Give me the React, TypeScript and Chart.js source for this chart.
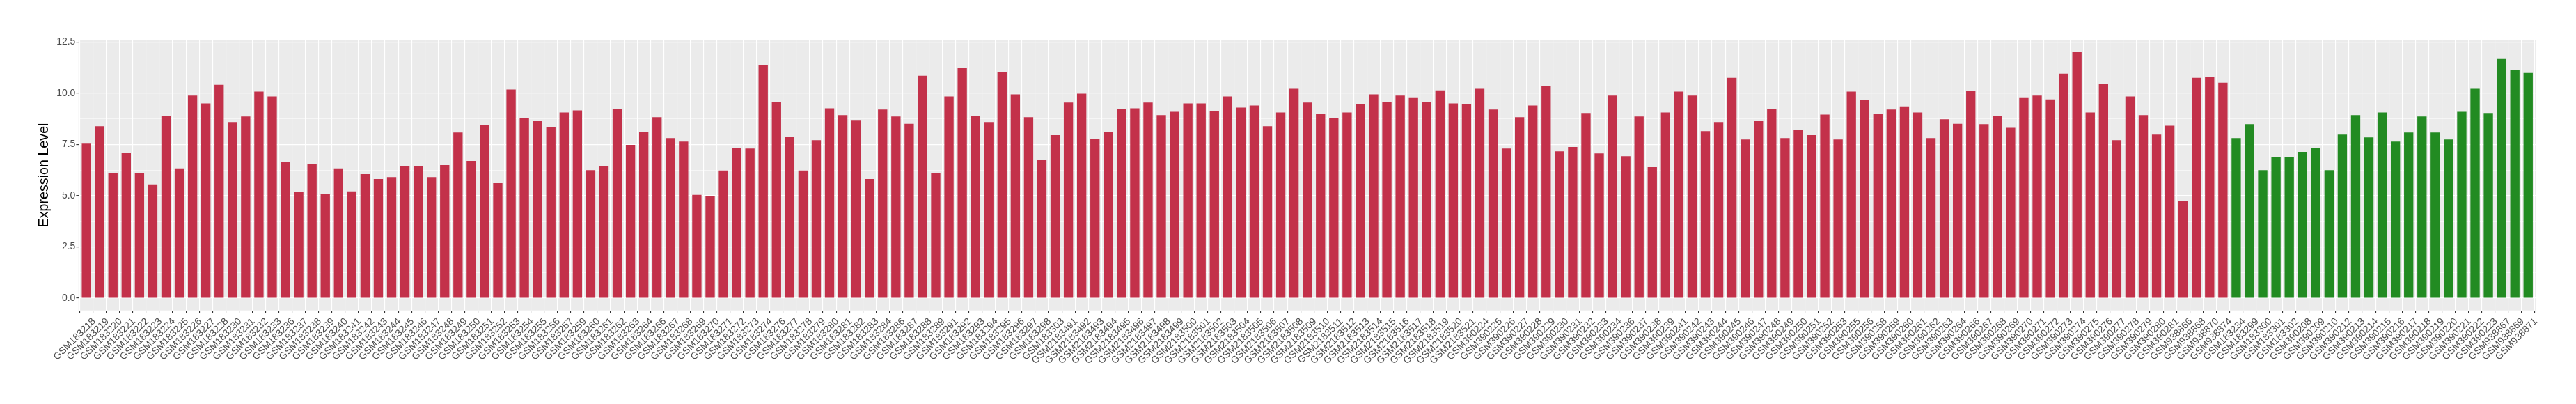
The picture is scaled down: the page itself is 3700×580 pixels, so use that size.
import React, { useEffect, useRef } from 'react';
import { Chart, registerables } from 'chart.js';

Chart.register(...registerables);

const tumorSamples = [
  'GSM183218', 'GSM183219', 'GSM183220', 'GSM183221', 'GSM183222', 'GSM183223', 'GSM183224', 'GSM183225',
  'GSM183226', 'GSM183227', 'GSM183228', 'GSM183230', 'GSM183231', 'GSM183232', 'GSM183233', 'GSM183236',
  'GSM183237', 'GSM183238', 'GSM183239', 'GSM183240', 'GSM183241', 'GSM183242', 'GSM183243', 'GSM183244',
  'GSM183245', 'GSM183246', 'GSM183247', 'GSM183248', 'GSM183249', 'GSM183250', 'GSM183251', 'GSM183252',
  'GSM183253', 'GSM183254', 'GSM183255', 'GSM183256', 'GSM183257', 'GSM183259', 'GSM183260', 'GSM183261',
  'GSM183262', 'GSM183263', 'GSM183264', 'GSM183266', 'GSM183267', 'GSM183268', 'GSM183269', 'GSM183270',
  'GSM183271', 'GSM183272', 'GSM183273', 'GSM183274', 'GSM183276', 'GSM183277', 'GSM183278', 'GSM183279',
  'GSM183280', 'GSM183281', 'GSM183282', 'GSM183283', 'GSM183284', 'GSM183286', 'GSM183287', 'GSM183288',
  'GSM183289', 'GSM183291', 'GSM183292', 'GSM183293', 'GSM183294', 'GSM183295', 'GSM183296', 'GSM183297',
  'GSM183298', 'GSM183303', 'GSM2183491', 'GSM2183492', 'GSM2183493', 'GSM2183494', 'GSM2183495', 'GSM2183496',
  'GSM2183497', 'GSM2183498', 'GSM2183499', 'GSM2183500', 'GSM2183501', 'GSM2183502', 'GSM2183503', 'GSM2183504',
  'GSM2183505', 'GSM2183506', 'GSM2183507', 'GSM2183508', 'GSM2183509', 'GSM2183510', 'GSM2183511', 'GSM2183512',
  'GSM2183513', 'GSM2183514', 'GSM2183515', 'GSM2183516', 'GSM2183517', 'GSM2183518', 'GSM2183519', 'GSM2183520',
  'GSM2183521', 'GSM390224', 'GSM390225', 'GSM390226', 'GSM390227', 'GSM390228', 'GSM390229', 'GSM390230',
  'GSM390231', 'GSM390232', 'GSM390233', 'GSM390234', 'GSM390236', 'GSM390237', 'GSM390238', 'GSM390239',
  'GSM390241', 'GSM390242', 'GSM390243', 'GSM390244', 'GSM390245', 'GSM390246', 'GSM390247', 'GSM390248',
  'GSM390249', 'GSM390250', 'GSM390251', 'GSM390252', 'GSM390253', 'GSM390255', 'GSM390256', 'GSM390258',
  'GSM390259', 'GSM390260', 'GSM390261', 'GSM390262', 'GSM390263', 'GSM390264', 'GSM390266', 'GSM390267',
  'GSM390268', 'GSM390269', 'GSM390270', 'GSM390271', 'GSM390272', 'GSM390273', 'GSM390274', 'GSM390275',
  'GSM390276', 'GSM390277', 'GSM390278', 'GSM390279', 'GSM390280', 'GSM390281', 'GSM938866', 'GSM938868',
  'GSM938870', 'GSM938874',
];

const tumorValues = [
  7.54, 8.39, 6.09, 7.10, 6.09, 5.55, 8.89, 6.33,
  9.88, 9.50, 10.41, 8.59, 8.86, 10.08, 9.84, 6.63,
  5.18, 6.53, 5.10, 6.33, 5.21, 6.05, 5.81, 5.91,
  6.46, 6.43, 5.91, 6.49, 8.08, 6.70, 8.45, 5.61,
  10.18, 8.79, 8.65, 8.35, 9.06, 9.16, 6.25, 6.46,
  9.23, 7.48, 8.11, 8.83, 7.81, 7.64, 5.04, 5.00,
  6.23, 7.34, 7.30, 11.36, 9.56, 7.88, 6.23, 7.71,
  9.26, 8.93, 8.69, 5.81, 9.20, 8.86, 8.51, 10.85,
  6.09, 9.84, 11.25, 8.89, 8.59, 11.03, 9.94, 8.83,
  6.76, 7.95, 9.54, 9.98, 7.78, 8.11, 9.23, 9.26,
  9.54, 8.93, 9.09, 9.50, 9.50, 9.13, 9.84, 9.30,
  9.40, 8.39, 9.06, 10.21, 9.54, 8.99, 8.79, 9.06,
  9.46, 9.94, 9.56, 9.88, 9.80, 9.56, 10.14, 9.50,
  9.46, 10.21, 9.20, 7.30, 8.83, 9.40, 10.34, 7.16,
  7.38, 9.03, 7.06, 9.88, 6.93, 8.86, 6.39, 9.06,
  10.08, 9.88, 8.15, 8.59, 10.75, 7.74, 8.63, 9.23,
  7.81, 8.21, 7.95, 8.96, 7.74, 10.08, 9.66, 8.99,
  9.20, 9.36, 9.06, 7.81, 8.73, 8.51, 10.11, 8.49,
  8.89, 8.31, 9.80, 9.88, 9.70, 10.95, 12.00, 9.06,
  10.45, 7.71, 9.84, 8.93, 7.98, 8.41, 4.74, 10.75,
  10.79, 10.51,
];

const normalSamples = [
  'GSM183234', 'GSM183299', 'GSM183300', 'GSM183301', 'GSM183302', 'GSM390208', 'GSM390209', 'GSM390210',
  'GSM390212', 'GSM390213', 'GSM390214', 'GSM390215', 'GSM390216', 'GSM390217', 'GSM390218', 'GSM390219',
  'GSM390220', 'GSM390221', 'GSM390222', 'GSM390223', 'GSM938867', 'GSM938869', 'GSM938871',
];

const normalValues = [
  7.81, 8.49, 6.25, 6.90, 6.90, 7.14, 7.34, 6.25,
  7.98, 8.93, 7.84, 9.06, 7.64, 8.08, 8.86, 8.08,
  7.74, 9.09, 10.21, 9.03, 11.70, 11.13, 10.99,
];

const yMajorTicks = [0, 2.5, 5, 7.5, 10, 12.5];
const yTickLabels = ['0.0', '2.5', '5.0', '7.5', '10.0', '12.5'];
const yMinorTicks = [1.25, 3.75, 6.25, 8.75, 11.25];

const allSamples = [...tumorSamples, ...normalSamples];

const FONT = '"Liberation Sans", Arial, Helvetica, sans-serif';

const isMajor = (v: number) => yMajorTicks.indexOf(v) >= 0;

const panelBackground = {
  id: 'panelBackground',
  beforeDraw(chart: any) {
    const { ctx, chartArea } = chart;
    if (!chartArea) return;
    ctx.save();
    ctx.fillStyle = '#EBEBEB';
    ctx.fillRect(chartArea.left, chartArea.top, chartArea.right - chartArea.left, chartArea.bottom - chartArea.top);
    ctx.restore();
  },
};

export default function App() {
  const canvasRef = useRef<HTMLCanvasElement | null>(null);

  useEffect(() => {
    const canvas = canvasRef.current;
    if (!canvas) return;
    const n = allSamples.length;
    const chart = new Chart(canvas, {
      type: 'bar',
      data: {
        datasets: [
          {
            label: 'Tumor',
            data: tumorValues.map((v, i) => ({ x: i, y: v })),
            backgroundColor: '#C3314A',
            borderWidth: 0,
            barPercentage: 0.7,
            categoryPercentage: 1,
            grouped: false,
          } as any,
          {
            label: 'Normal',
            data: normalValues.map((v, i) => ({ x: tumorSamples.length + i, y: v })),
            backgroundColor: '#228B22',
            borderWidth: 0,
            barPercentage: 0.7,
            categoryPercentage: 1,
            grouped: false,
          } as any,
        ],
      },
      options: {
        animation: false,
        responsive: false,
        devicePixelRatio: 1,
        layout: { padding: { top: 57.3, right: 57.3, left: 0, bottom: 0 } },
        plugins: {
          legend: { display: false },
          tooltip: { enabled: false },
        },
        scales: {
          x: {
            type: 'linear',
            min: -0.6,
            max: n - 1 + 0.6,
            bounds: 'data',
            offset: false,
            afterBuildTicks: (s: any) => {
              s.ticks = allSamples.map((_, i) => ({ value: i }));
            },
            afterFit: (s: any) => {
              s.height = 580 - 445.7;
            },
            grid: {
              color: '#FFFFFF',
              lineWidth: 1.1,
              drawTicks: true,
              tickLength: 3.3,
              tickColor: '#333333',
              tickWidth: 1.1,
            },
            border: { display: false },
            ticks: {
              autoSkip: false,
              minRotation: 45,
              maxRotation: 45,
              labelOffset: 11,
              padding: 4.3,
              color: '#4D4D4D',
              font: { family: FONT, size: 14 },
              callback: (v: any) => allSamples[v as number] ?? '',
            },
          } as any,
          y: {
            type: 'linear',
            min: -0.6,
            max: 12.6,
            bounds: 'data',
            afterBuildTicks: (s: any) => {
              s.ticks = [...yMajorTicks, ...yMinorTicks].sort((a, b) => a - b).map((v) => ({ value: v }));
            },
            afterFit: (s: any) => {
              s.width = 112.7;
            },
            grid: {
              color: (c: any) => (c.tick && isMajor(c.tick.value) ? '#FFFFFF' : 'rgba(255,255,255,0.55)'),
              lineWidth: (c: any) => (c.tick && isMajor(c.tick.value) ? 1.2 : 1),
              drawTicks: true,
              tickLength: 3.3,
              tickColor: (c: any) => (c.tick && isMajor(c.tick.value) ? '#333333' : 'rgba(0,0,0,0)'),
              tickWidth: 1.1,
            },
            border: { display: false },
            ticks: {
              padding: 1,
              color: '#4D4D4D',
              font: { family: FONT, size: 14 },
              callback: (v: any) => {
                const i = yMajorTicks.indexOf(v as number);
                return i >= 0 ? yTickLabels[i] : '';
              },
            },
            title: {
              display: true,
              text: 'Expression Level',
              color: '#000000',
              font: { family: FONT, size: 19.7 },
              padding: { top: 52.2, bottom: 0 },
            },
          } as any,
        },
      },
      plugins: [panelBackground],
    });
    return () => {
      chart.destroy();
    };
  }, []);

  return (
    <div style={{ position: 'fixed', left: 0, top: 0, width: 3700, height: 580, background: '#FFFFFF' }}>
      <canvas ref={canvasRef} width={3700} height={580} style={{ display: 'block', width: 3700, height: 580 }} />
    </div>
  );
}
